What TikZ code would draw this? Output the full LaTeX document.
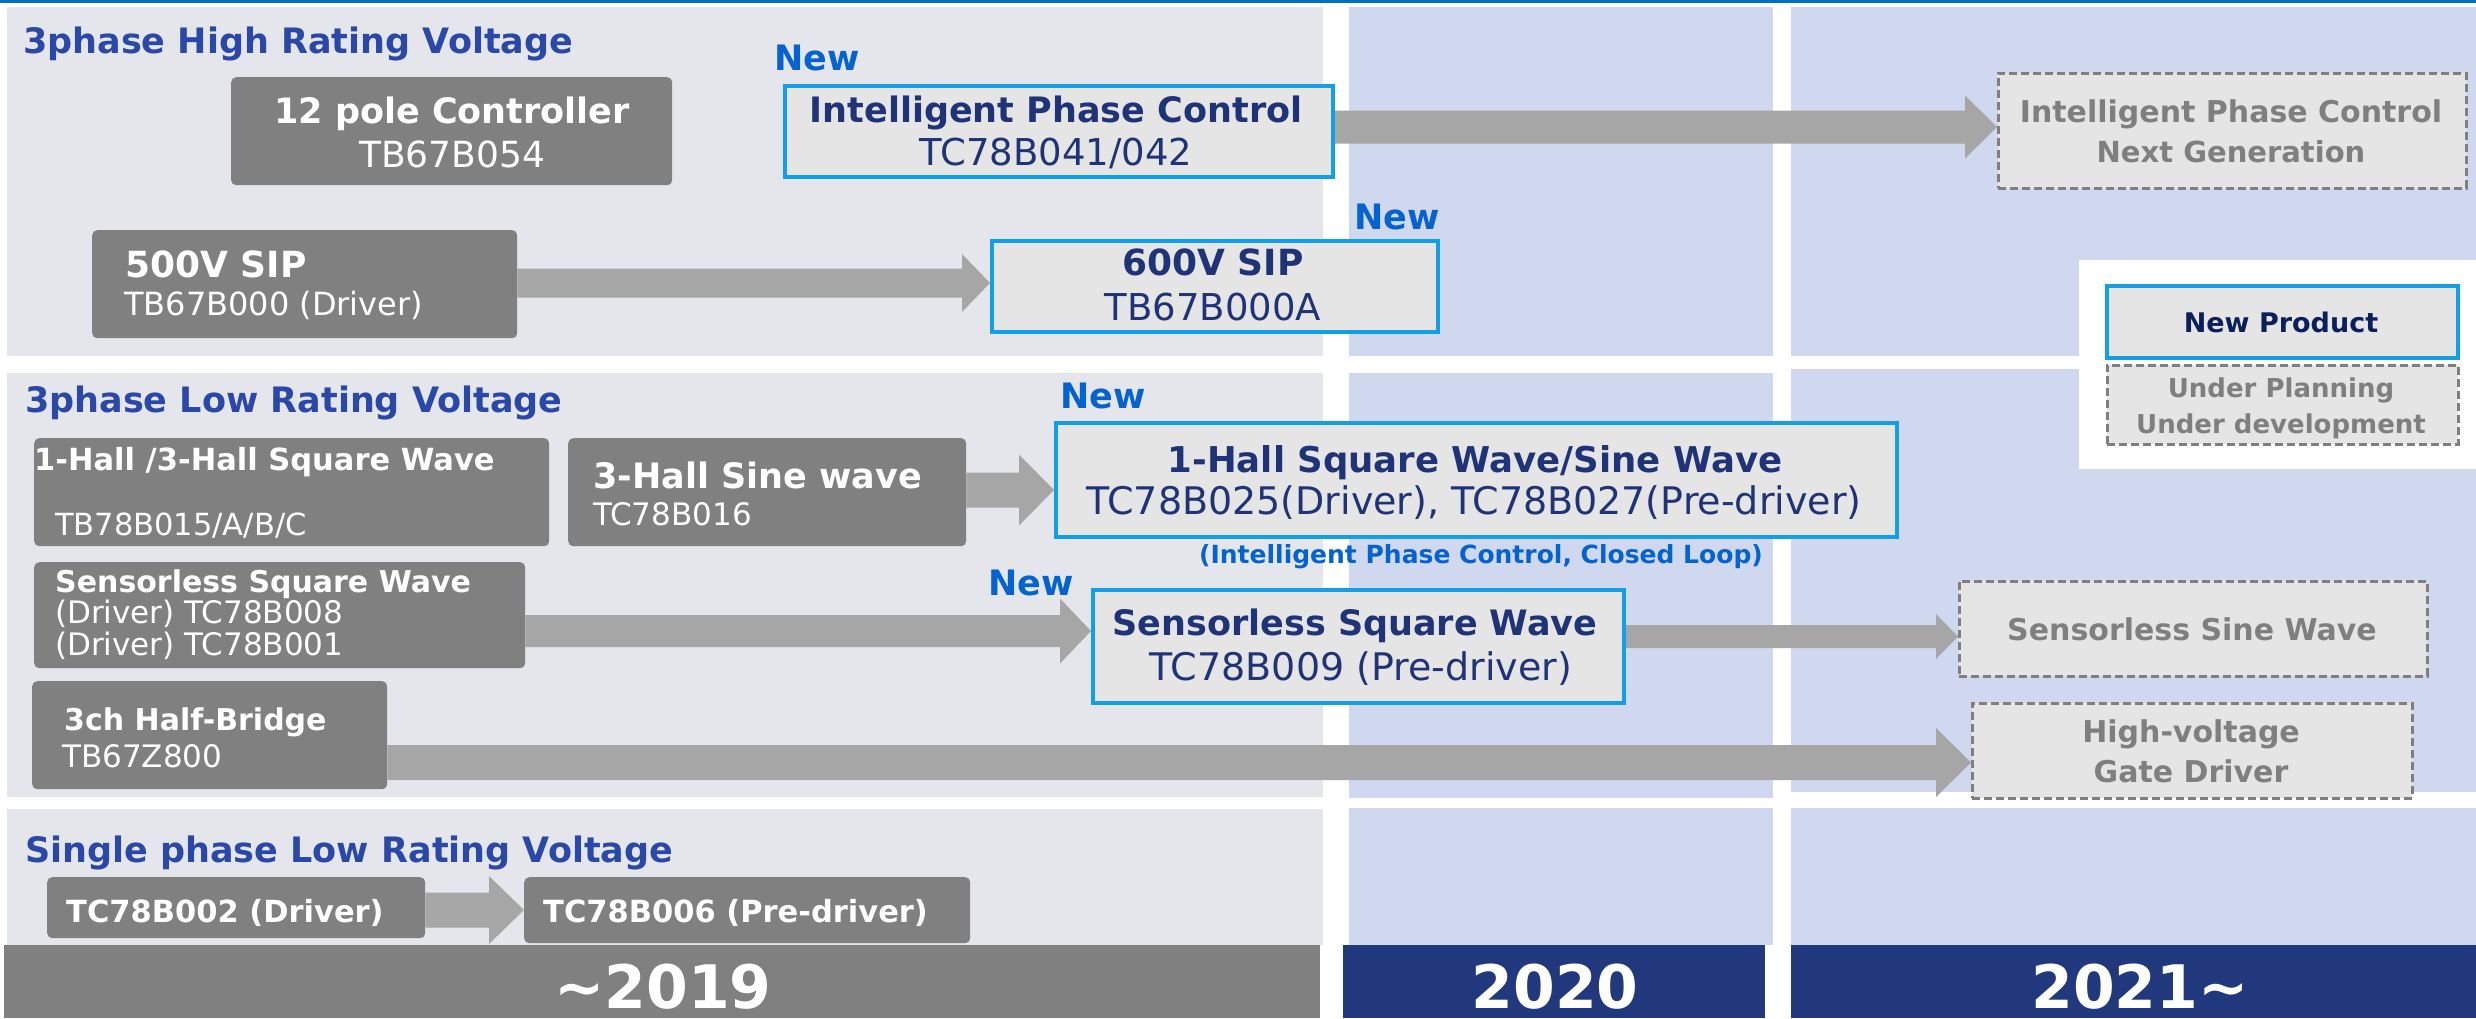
\documentclass[tikz,border=0pt]{standalone}
\usepackage{fontspec}
\setmainfont{DejaVu Sans}
\usetikzlibrary{calc}
\definecolor{topline}{HTML}{0070C0}
\definecolor{panelgray}{HTML}{E5E6EC}
\definecolor{panelblue}{HTML}{D0D8F0}
\definecolor{boxgray}{HTML}{808080}
\definecolor{arrowc}{HTML}{A6A6A6}
\definecolor{newblue}{HTML}{139EE8}
\definecolor{boxfill}{HTML}{E5E5E5}
\definecolor{navytext}{HTML}{1F3478}
\definecolor{legnavy}{HTML}{0A1F5C}
\definecolor{titleblue}{HTML}{2A48A8}
\definecolor{newtext}{HTML}{0563D0}
\definecolor{yearnavy}{HTML}{22387C}
\definecolor{dashgray}{HTML}{7F7F7F}
\pgfdeclarelayer{bg}\pgfdeclarelayer{arr}\pgfsetlayers{bg,arr,main}
\newcommand\fsz[1]{\fontsize{#1}{#1}\selectfont}
\newcommand\fatarrow[6]{%
  \fill[arrowc] let \p1=(#1), \p2=(#2), \p3=(0,#3) in
   (\x1,{\y3+#4pt}) -- ({\x2-#6pt},{\y3+#4pt}) -- ({\x2-#6pt},{\y3+#5pt}) -- (\x2,\y3)
   -- ({\x2-#6pt},{\y3-#5pt}) -- ({\x2-#6pt},{\y3-#4pt}) -- (\x1,{\y3-#4pt}) -- cycle;}
\begin{document}
\begin{tikzpicture}[x=1pt,y=-1pt,
  gbox/.style={fill=boxgray, rounded corners=5pt, draw=none, inner sep=0pt, anchor=north west},
  nbox/.style={fill=boxfill, draw=newblue, line width=4pt, inner sep=0pt, anchor=north west},
  dbox/.style={fill=boxfill, draw=dashgray, line width=2.5pt, dash pattern=on 8pt off 4pt, inner sep=0pt, anchor=north west},
  lbl/.style={inner sep=0pt, anchor=base west},
  clbl/.style={inner sep=0pt, anchor=base},
  sect/.style={lbl, text=titleblue, font=\bfseries\fsz{35}},
  newl/.style={lbl, text=newtext, font=\bfseries\fsz{35}},
  yr/.style={clbl, text=white, font=\bfseries\fsz{60}}]
\useasboundingbox (0,0) rectangle (2476,1018);
\begin{pgfonlayer}{bg}
 \fill[white] (0,0) rectangle (2476,1018);
 \fill[topline] (0,0) rectangle (2476,3);
 \fill[panelgray] (7,7) rectangle (1323,356);
 \fill[panelgray] (7,373) rectangle (1323,797);
 \fill[panelgray] (7,809) rectangle (1323,945);
 \fill[panelblue] (1349,7) rectangle (1773,356);
 \fill[panelblue] (1349,373) rectangle (1773,798);
 \fill[panelblue] (1349,808) rectangle (1773,945);
 \fill[panelblue] (1791,7) rectangle (2476,356);
 \fill[panelblue] (1791,369) rectangle (2476,792);
 \fill[panelblue] (1791,808) rectangle (2476,945);
 \fill[white] (2079,260) rectangle (2476,469);
 \fill[boxgray] (4,945) rectangle (1320,1018);
 \fill[yearnavy] (1343,945) rectangle (1765,1018);
 \fill[yearnavy] (1791,945) rectangle (2476,1018);
\end{pgfonlayer}

% section titles
\node[sect] (s1) at (23,53) {3phase High Rating Voltage};
\node[sect] (s2) at (25,412) {3phase Low Rating Voltage};
\node[sect] (s3) at (25,862) {Single phase Low Rating Voltage};

% "New" labels
\node[newl] (n1) at (774,70) {New};
\node[newl] (n2) at (1354,229) {New};
\node[newl] (n3) at (1060,408) {New};
\node[newl] (n4) at (988,595) {New};

% dark gray boxes
\node[gbox, minimum width=441pt, minimum height=108pt] (pole12) at (231,77) {};
\node[gbox, minimum width=425pt, minimum height=108pt] (sip500) at (92,230) {};
\node[gbox, minimum width=515pt, minimum height=108pt] (hall13) at (34,438) {};
\node[gbox, minimum width=398pt, minimum height=108pt] (hall3) at (568,438) {};
\node[gbox, minimum width=491pt, minimum height=106pt] (sqold) at (34,562) {};
\node[gbox, minimum width=355pt, minimum height=108pt] (halfbr) at (32,681) {};
\node[gbox, minimum width=378pt, minimum height=61pt] (b002) at (47,877) {};
\node[gbox, minimum width=446pt, minimum height=66pt] (b006) at (524,877) {};

% new product boxes
\node[nbox, minimum width=548pt, minimum height=91pt] (ipc) at (783,84) {};
\node[nbox, minimum width=446pt, minimum height=91pt] (sip600) at (990,239) {};
\node[nbox, minimum width=841pt, minimum height=114pt] (hall1) at (1054,421) {};
\node[nbox, minimum width=531pt, minimum height=113pt] (sqnew) at (1091,588) {};
\node[nbox, minimum width=351pt, minimum height=72pt] (legnew) at (2105,284) {};

% planned boxes
\node[dbox, minimum width=468pt, minimum height=115pt] (nextgen) at (1997,72) {};
\node[dbox, minimum width=468pt, minimum height=95pt] (sine) at (1958,580) {};
\node[dbox, minimum width=440pt, minimum height=95pt] (hv) at (1971,702) {};
\node[dbox, minimum width=351pt, minimum height=79pt] (legplan) at (2106,364) {};

% arrows
\begin{pgfonlayer}{arr}
\fatarrow{sip500.east}{sip600.west}{283}{14.5}{29}{28}
\fatarrow{ipc.east}{nextgen.west}{127}{16.5}{31.5}{32}
\fatarrow{hall3.east}{hall1.west}{490}{17.5}{35.5}{35}
\fatarrow{sqold.east}{sqnew.west}{631}{16}{32.5}{31}
\fatarrow{sqnew.east}{sine.west}{636.5}{11.5}{22.5}{22}
\fatarrow{halfbr.east}{hv.west}{762.5}{17.5}{34.5}{35}
\fatarrow{b002.east}{b006.west}{910}{17.5}{34}{35}
\end{pgfonlayer}

% texts in dark boxes
\node[clbl, text=white, font=\bfseries\fsz{35}] (t1) at (452,123) {12 pole Controller};
\node[clbl, text=white, font=\fsz{36}] (t2) at (452,167) {TB67B054};
\node[lbl, text=white, font=\bfseries\fsz{36}] (t3) at (125,277) {500V SIP};
\node[lbl, text=white, font=\fsz{32}] (t4) at (124,315) {TB67B000 (Driver)};
\node[lbl, text=white, font=\bfseries\fsz{30.5}] (t5) at (34,470) {1-Hall /3-Hall Square Wave};
\node[lbl, text=white, font=\fsz{30.5}] (t6) at (55,535) {TB78B015/A/B/C};
\node[lbl, text=white, font=\bfseries\fsz{35}] (t7) at (593,488) {3-Hall Sine wave};
\node[lbl, text=white, font=\fsz{31}] (t8) at (593,525) {TC78B016};
\node[lbl, text=white, font=\bfseries\fsz{30}] (t9) at (55,592) {Sensorless Square Wave};
\node[lbl, text=white, font=\fsz{31}] (t10) at (55,623) {(Driver) TC78B008};
\node[lbl, text=white, font=\fsz{31}] (t11) at (55,655) {(Driver) TC78B001};
\node[lbl, text=white, font=\bfseries\fsz{30}] (t12) at (64,730) {3ch Half-Bridge};
\node[lbl, text=white, font=\fsz{31}] (t13) at (62,767) {TB67Z800};
\node[lbl, text=white, font=\bfseries\fsz{30.5}] (t14) at (66,922) {TC78B002 (Driver)};
\node[lbl, text=white, font=\bfseries\fsz{30.5}] (t15) at (543,922) {TC78B006 (Pre-driver)};

% texts in new boxes
\node[clbl, text=navytext, font=\bfseries\fsz{35}] (t16) at (1056,122) {Intelligent Phase Control};
\node[clbl, text=navytext, font=\fsz{37}] (t17) at (1056,165) {TC78B041/042};
\node[clbl, text=navytext, font=\bfseries\fsz{36}] (t18) at (1213,275) {600V SIP};
\node[clbl, text=navytext, font=\fsz{37}] (t19) at (1213,320) {TB67B000A};
\node[clbl, text=navytext, font=\bfseries\fsz{35.5}] (t20) at (1475,472) {1-Hall Square Wave/Sine Wave};
\node[clbl, text=navytext, font=\fsz{38}] (t21) at (1474,514) {TC78B025(Driver), TC78B027(Pre-driver)};
\node[clbl, text=newtext, font=\bfseries\fsz{25}] (t22) at (1481,563) {(Intelligent Phase Control, Closed Loop)};
\node[clbl, text=navytext, font=\bfseries\fsz{35}] (t23) at (1355,635) {Sensorless Square Wave};
\node[clbl, text=navytext, font=\fsz{38}] (t24) at (1361,680) {TC78B009 (Pre-driver)};
\node[clbl, text=legnavy, font=\bfseries\fsz{27}] (t25) at (2281,332) {New Product};

% texts in planned boxes
\node[clbl, text=dashgray, font=\bfseries\fsz{30}] (t26) at (2231,122) {Intelligent Phase Control};
\node[clbl, text=dashgray, font=\bfseries\fsz{29}] (t27) at (2231,162) {Next Generation};
\node[clbl, text=dashgray, font=\bfseries\fsz{30}] (t28) at (2192,640) {Sensorless Sine Wave};
\node[clbl, text=dashgray, font=\bfseries\fsz{30}] (t29) at (2191,742) {High-voltage};
\node[clbl, text=dashgray, font=\bfseries\fsz{30}] (t30) at (2191,782) {Gate Driver};
\node[clbl, text=dashgray, font=\bfseries\fsz{26}] (t31) at (2281,397) {Under Planning};
\node[clbl, text=dashgray, font=\bfseries\fsz{26}] (t32) at (2281,433) {Under development};

% years
\node[yr] (y1) at (663,1008) {\textasciitilde2019};
\node[yr] (y2) at (1555,1008) {2020};
\node[yr] (y3) at (2140,1008) {2021\textasciitilde};
\end{tikzpicture}
\end{document}
